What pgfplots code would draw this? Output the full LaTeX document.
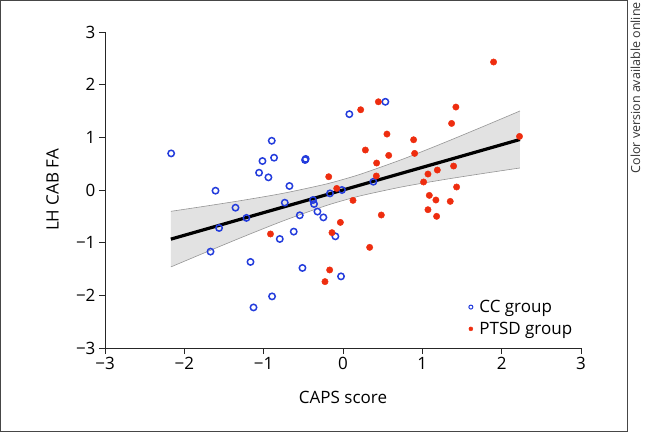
\documentclass[border=0pt]{standalone}
\usepackage{fontspec}
\setmainfont{Open Sans}
\usepackage{pgfplots}
\pgfplotsset{compat=1.18}
\definecolor{ccblue}{RGB}{35,60,220}
\definecolor{ptred}{RGB}{238,45,15}
\definecolor{bandfill}{RGB}{226,226,226}
\definecolor{bandedge}{RGB}{150,150,150}
\definecolor{framegray}{RGB}{70,70,70}
\begin{document}
\begin{tikzpicture}[font=\fontsize{17}{20}\selectfont]
\useasboundingbox (-105pt,-86pt) rectangle (540pt,348pt);
\draw[framegray, line width=1pt] (-104pt,347pt) rectangle (522pt,-83pt);
\node[rotate=90, anchor=north east, inner sep=0pt, font=\fontsize{12.5}{14}\selectfont, text=black!80] at (525.5pt,346pt) {Color version available online};
\begin{axis}[
  at={(0pt,0pt)}, anchor=south west,
  scale only axis, width=476pt, height=316pt,
  xmin=-3, xmax=3, ymin=-3, ymax=3,
  axis lines=left,
  axis line style={-, black!85, line width=0.9pt},
  tick style={black!85, line width=0.9pt},
  tick align=outside,
  major tick length=6pt,
  xtick={-3,-2,-1,0,1,2,3},
  ytick={-3,-2,-1,0,1,2,3},
  xticklabels={−3,−2,−1,0,1,2,3},
  yticklabels={−3,−2,−1,0,1,2,3},
  xlabel={CAPS score},
  ylabel={LH CAB FA},
  xlabel style={at={(axis description cs:0.5,-0.155)}, anchor=center},
  ylabel style={at={(axis description cs:-0.11,0.5)}, anchor=center},
  clip=false,
  legend image code/.code={\draw[#1] plot coordinates {(0pt,0pt)};},
  legend style={draw=none, fill=none, at={(axis description cs:0.764,0.095)}, anchor=west,
    inner sep=0pt, row sep=3pt, column sep=4pt, nodes={inner sep=2.5pt, anchor=west}},
  legend cell align=left,
]
% confidence band
\addplot[fill=bandfill, draw=none, forget plot] coordinates {
(-2.17,-0.405) (-1.75,-0.310) (-1.25,-0.192) (-0.75,-0.061) (-0.25,0.100) (0,0.200) (0.25,0.315) (0.75,0.584) (1.25,0.883) (1.75,1.195) (2.23,1.500)
(2.23,0.418) (1.75,0.310) (1.25,0.192) (0.75,0.061) (0.25,-0.100) (0,-0.200) (-0.25,-0.315) (-0.75,-0.584) (-1.25,-0.883) (-1.75,-1.195) (-2.17,-1.461)
} -- cycle;
\addplot[bandedge, line width=0.6pt, smooth, forget plot] coordinates {
(-2.17,-0.405) (-1.75,-0.310) (-1.25,-0.192) (-0.75,-0.061) (-0.25,0.100) (0,0.200) (0.25,0.315) (0.75,0.584) (1.25,0.883) (1.75,1.195) (2.23,1.500)};
\addplot[bandedge, line width=0.6pt, smooth, forget plot] coordinates {
(-2.17,-1.461) (-1.75,-1.195) (-1.25,-0.883) (-0.75,-0.584) (-0.25,-0.315) (0,-0.200) (0.25,-0.100) (0.75,0.061) (1.25,0.192) (1.75,0.310) (2.23,0.418)};
% regression line
\addplot[black, line width=3.2pt, forget plot] coordinates {(-2.17,-0.933) (2.23,0.959)};
% CC group
\addplot[only marks, mark=o, mark size=3.2pt, ccblue, line width=1.5pt,
  legend image post style={mark size=2pt, line width=1pt}] coordinates {
(-2.166,0.695) (-0.898,0.935) (-1.015,0.55) (-0.869,0.613) (-0.478,0.57) (-0.47,0.59)
(-1.058,0.328) (-0.94,0.24) (-0.675,0.076) (-1.607,-0.013) (0.08,1.44) (0.534,1.675)
(0.383,0.157) (-0.013,0.0) (-0.164,-0.064) (-1.355,-0.336) (-0.734,-0.241) (-0.378,-0.19)
(-0.365,-0.266) (-0.545,-0.48) (-0.322,-0.41) (-0.247,-0.52) (-1.217,-0.53)
(-1.562,-0.721) (-0.621,-0.79) (-0.797,-0.93) (-0.096,-0.88) (-1.67,-1.17)
(-1.166,-1.366) (-0.511,-1.48) (-0.025,-1.64) (-0.894,-2.02) (-1.128,-2.23)
};
\addlegendentry{CC group}
% PTSD group
\addplot[only marks, mark=*, mark size=3.2pt, ptred, draw=none, fill=ptred,
  legend image post style={mark size=2pt}] coordinates {
(0.446,1.675) (0.223,1.524) (0.554,1.062) (0.282,0.759) (0.576,0.657) (0.424,0.512)
(0.42,0.266) (-0.18,0.252) (-0.079,0.03) (0.126,-0.197) (0.483,-0.475) (-0.033,-0.615)
(1.898,2.43) (1.423,1.575) (1.369,1.264) (0.89,0.954) (0.903,0.695) (2.225,1.017)
(1.394,0.455) (1.189,0.379) (1.071,0.303) (1.016,0.152) (1.432,0.057) (1.088,-0.102)
(1.171,-0.19) (1.352,-0.216) (1.071,-0.374) (1.18,-0.5) (-0.914,-0.835) (-0.139,-0.81)
(0.336,-1.089) (-0.168,-1.518) (-0.227,-1.74)
};
\addlegendentry{PTSD group}
\end{axis}
\end{tikzpicture}
\end{document}
